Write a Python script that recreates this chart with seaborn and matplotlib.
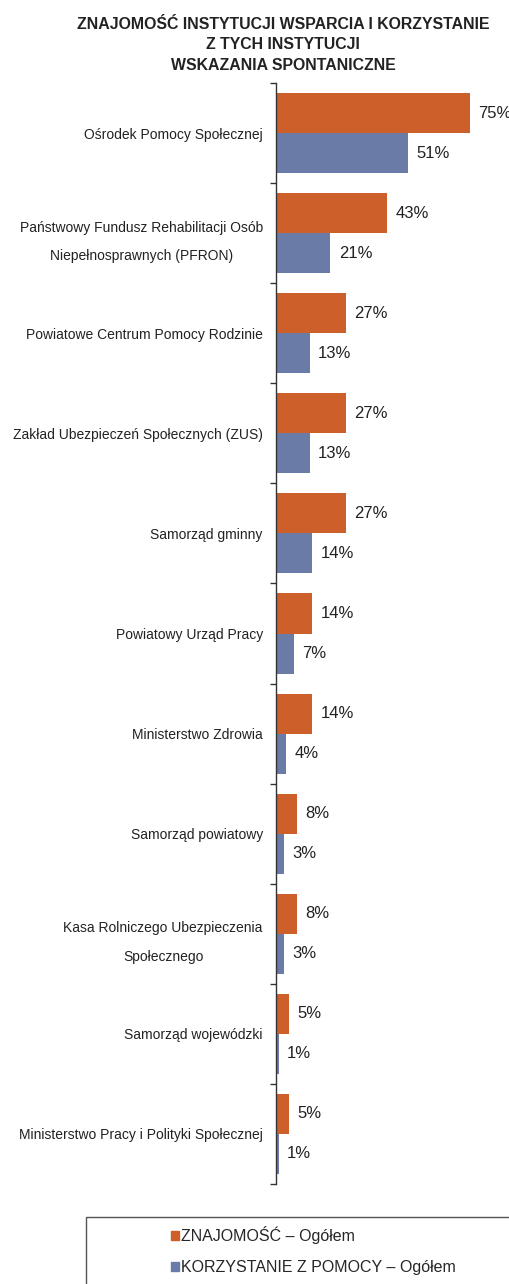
import pandas as pd
import matplotlib.pyplot as plt
import seaborn as sns
from matplotlib.patches import Rectangle

categories = [
    'Ośrodek Pomocy Społecznej',
    'Państwowy Fundusz Rehabilitacji Osób\nNiepełnosprawnych (PFRON)',
    'Powiatowe Centrum Pomocy Rodzinie',
    'Zakład Ubezpieczeń Społecznych (ZUS)',
    'Samorząd gminny',
    'Powiatowy Urząd Pracy',
    'Ministerstwo Zdrowia',
    'Samorząd powiatowy',
    'Kasa Rolniczego Ubezpieczenia\nSpołecznego',
    'Samorząd wojewódzki',
    'Ministerstwo Pracy i Polityki Społecznej',
]
znajomosc = [75, 43, 27, 27, 27, 14, 14, 8, 8, 5, 5]
korzystanie = [51, 21, 13, 13, 14, 7, 4, 3, 3, 1, 1]
series_names = ['ZNAJOMOŚĆ – Ogółem', 'KORZYSTANIE Z POMOCY – Ogółem']
title = 'ZNAJOMOŚĆ INSTYTUCJI WSPARCIA I KORZYSTANIE\nZ TYCH INSTYTUCJI\nWSKAZANIA SPONTANICZNE'

df = pd.DataFrame({
    'instytucja': categories * 2,
    'wartosc': znajomosc + korzystanie,
    'seria': [series_names[0]] * len(categories) + [series_names[1]] * len(categories),
})

sns.set_style('white')
plt.rcParams['font.family'] = ['Liberation Sans', 'DejaVu Sans']

W, H = 510, 1284
colors = ['#CC5F2A', '#6B7BA8']
fig = plt.figure(figsize=(W / 100, H / 100), dpi=100)
ax = fig.add_axes([276 / W, 1 - 1184 / H, 1 - 276 / W, (1184 - 83) / H])

sns.barplot(data=df, y='instytucja', x='wartosc', hue='seria', orient='h',
            palette=colors, width=0.8, ax=ax, legend=False,
            saturation=1, linewidth=0)

for cont in ax.containers:
    ax.bar_label(cont, fmt='%d%%', padding=6, fontsize=12, color='#222222')

ax.set_xlim(0, 90.5)
ax.set_ylim(len(categories) - 0.5, -0.5)
ax.set_xlabel('')
ax.set_ylabel('')
ax.set_xticks([])
for s in ['top', 'right', 'bottom']:
    ax.spines[s].set_visible(False)
ax.spines['left'].set_color('#333333')
ax.spines['left'].set_linewidth(1)
ax.set_yticks(range(len(categories)))
ax.set_yticklabels(categories, fontsize=10, color='#222222', ha='right',
                   multialignment='center', linespacing=2.3)
ax.tick_params(axis='y', which='major', left=False, length=0, pad=9.5)
ax.set_yticks([i - 0.5 for i in range(len(categories) + 1)], minor=True)
ax.tick_params(axis='y', which='minor', left=True, length=4, width=1,
               color='#333333', direction='out')

fig.text(283 / W, 1 - 17 / H, title, ha='center', va='top', fontsize=11.4,
         fontweight='bold', color='#222222', linespacing=1.45)

fig.patches.append(Rectangle((86 / W, -0.01), 1, (1284 - 1217) / H + 0.01,
                             transform=fig.transFigure, fill=False,
                             edgecolor='#555555', linewidth=1))
handles = [Rectangle((0, 0), 1, 1, color=c) for c in colors]
fig.legend(handles, series_names, loc='upper left', bbox_to_anchor=(163 / W, 1 - 1218 / H),
           frameon=False, fontsize=11.5, handlelength=0.5, handleheight=0.5,
           handletextpad=0.15, labelspacing=1.0, borderpad=0)

fig.savefig('out.png', dpi=100)
